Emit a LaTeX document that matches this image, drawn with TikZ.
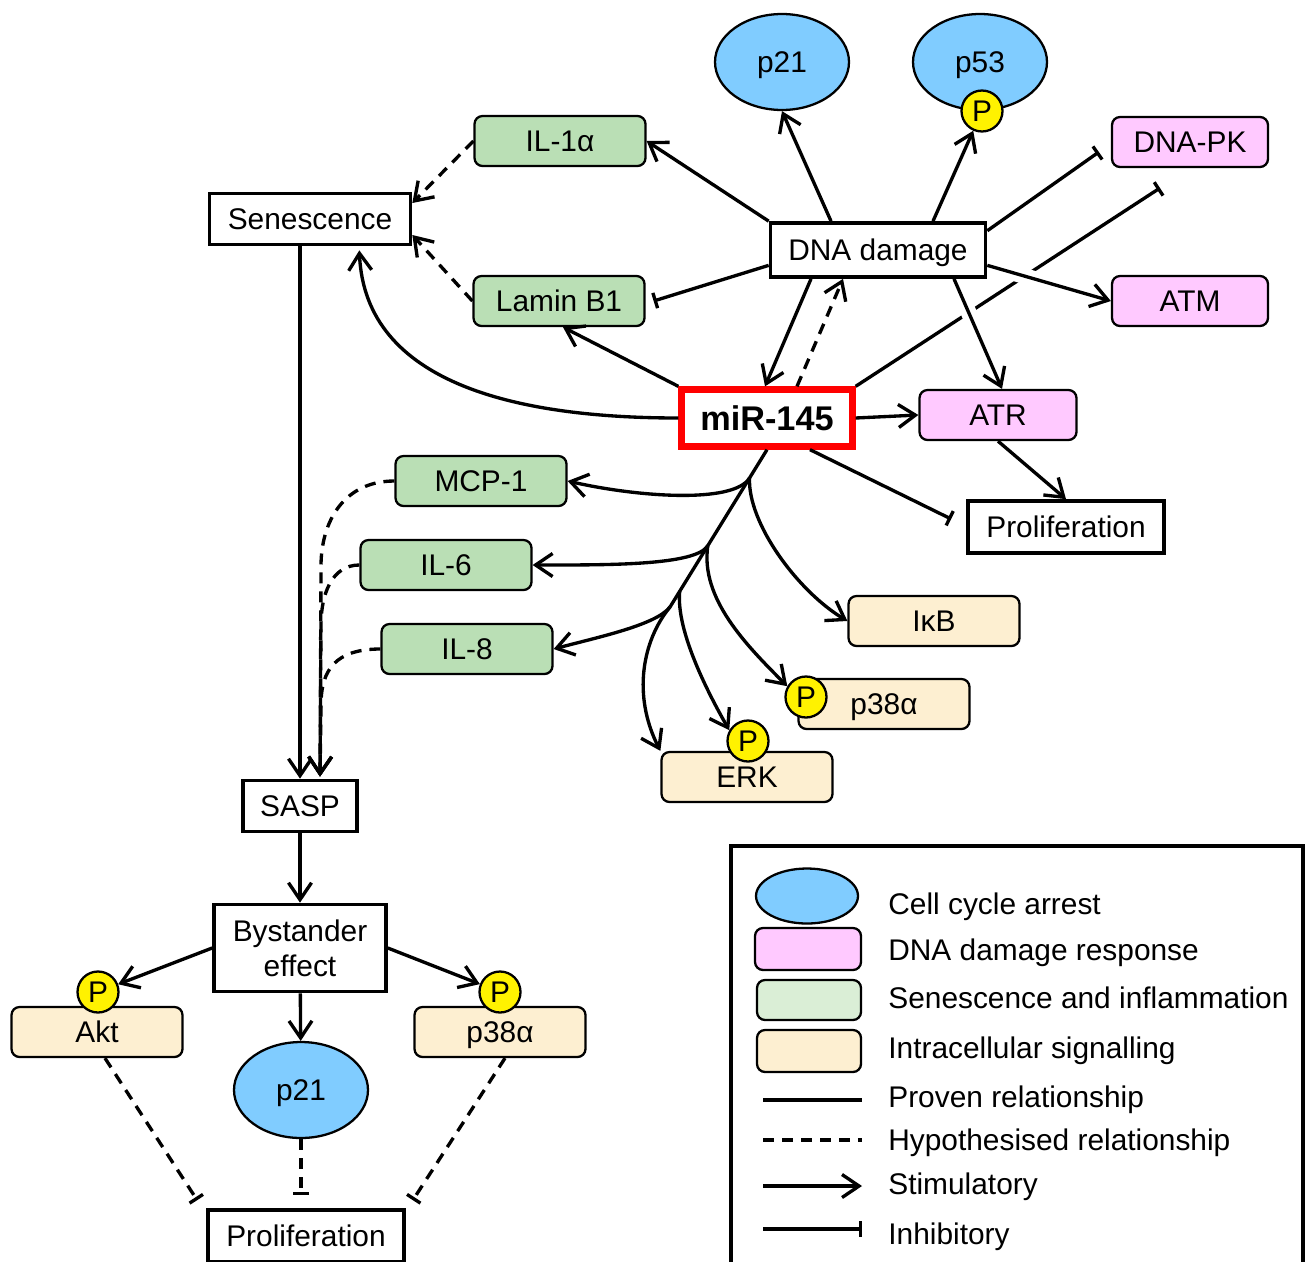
\documentclass[tikz,border=0pt]{standalone}
\usepackage{fontspec}
\setmainfont{Liberation Sans}
\usepackage{tikz}
\usetikzlibrary{arrows.meta,shapes,calc}

\definecolor{cycblue}{RGB}{128,204,255}
\definecolor{ddrpink}{RGB}{255,201,255}
\definecolor{infgreen}{RGB}{186,223,181}
\definecolor{inflight}{RGB}{218,238,214}
\definecolor{sigtan}{RGB}{253,239,209}

\begin{document}
\begin{tikzpicture}[x=0.02cm,y=-0.02cm,
    fnt/.style={font=\fontsize{17}{20}\selectfont, inner sep=0pt},
    lbl/.style={fnt, text height=12.2pt, text depth=0pt},
    wbox/.style={lbl, draw, line width=2.1pt, fill=white},
    rbox/.style={lbl, draw, line width=1.3pt, rounded corners=0.16cm, minimum width=3.42cm, minimum height=1cm},
    inflam/.style={rbox, fill=infgreen},
    ddr/.style={rbox, fill=ddrpink},
    sig/.style={rbox, fill=sigtan},
    cyc/.style={lbl, draw, line width=1.3pt, ellipse, fill=cycblue, minimum width=2.68cm, minimum height=1.92cm},
    phos/.style={lbl, draw, line width=1.3pt, circle, fill=yellow, minimum size=0.82cm},
    prov/.style={line width=1.9pt},
    stim/.style={prov, -{Straight Barb[length=0.34cm,width=0.46cm]}},
    inh/.style={prov, -{Bar[width=0.32cm]}},
    hyp/.style={prov, dash pattern=on 0.22cm off 0.16cm},
    gap/.style={draw=white, line width=9pt, shorten <=0.4cm, shorten >=0.4cm},
]
\useasboundingbox (0,0) rectangle (1307,1261);

% upper network
\node[cyc] (p21a) at (782,62) {p21};
\node[cyc] (p53) at (980,62) {p53};
\node[phos] (p53p) at (982,111) {P};
\node[ddr,minimum width=3.12cm] (dnapk) at (1190,142) {DNA-PK};
\node[ddr,minimum width=3.12cm] (atm) at (1190,301) {ATM};
\node[ddr,minimum width=3.14cm] (atr) at (998,415) {ATR};
\node[wbox,minimum width=4.3cm,minimum height=1.08cm] (dna) at (878,250) {DNA damage};
\node[inflam] (il1) at (560,141) {IL-1α};
\node[inflam] (lamin) at (559,301) {Lamin B1};
\node[wbox,minimum width=4.02cm,minimum height=1.02cm] (sen) at (310,219) {Senescence};
\node[wbox,draw=red,line width=3.6pt,minimum width=3.42cm,minimum height=1.14cm,
      font=\fontsize{19.5}{22}\selectfont\bfseries,text height=14pt] (mir) at (767,418) {miR-145};
\node[wbox,minimum width=3.92cm,minimum height=1.04cm] (prol) at (1066,527) {Proliferation};
\node[inflam] (mcp) at (481,481) {MCP-1};
\node[inflam] (il6) at (446,565) {IL-6};
\node[inflam] (il8) at (467,649) {IL-8};
\node[sig] (ikb) at (934,621) {IκB};
\node[sig] (p38a) at (884,704) {p38α};
\node[sig] (erk) at (747,777) {ERK};
\node[phos] (p38ap) at (806,697) {P};
\node[phos] (erkp) at (748,741) {P};

\draw[stim] (dna.north west) -- (il1.east);
\draw[stim] ([xshift=-0.94cm]dna.north) -- (p21a.south);
\draw[stim] ([xshift=1.1cm]dna.north) -- (p53p);
\draw[inh] (dna.10) -- ([xshift=-0.24cm,yshift=-0.2cm]dnapk.west);
\draw[inh] (dna.188) -- ([xshift=0.16cm]lamin.east);
\draw[stim] ([xshift=-1.34cm]dna.south) -- ([xshift=-0.04cm]mir.north);
\draw[stim,hyp] ([xshift=0.6cm]mir.north) -- ([xshift=-0.7cm]dna.south);
\draw[stim] (mir.north west) -- ([xshift=0.08cm]lamin.south);
\draw[stim] (mir.east) -- (atr.west);
\draw[inh] ([xshift=0.86cm]mir.south) -- ([xshift=-0.3cm,yshift=0.16cm]prol.west);
\draw[stim] (atr.south) -- (prol.north);
\coordinate (pkbar) at (1160,188);
\draw[inh] (mir.north east) -- (pkbar);
% breaks where the long line is crossed
\draw[gap] (dna.-8) -- (atm.west);
\draw[gap] ([xshift=1.52cm]dna.south) -- ([xshift=0.08cm]atr.north);
\draw[stim] (dna.-8) -- (atm.west);
\draw[stim] ([xshift=1.52cm]dna.south) -- ([xshift=0.08cm]atr.north);
\draw[stim,hyp] (il1.west) -- ([yshift=0.32cm]sen.east);
\draw[stim,hyp] (lamin.west) -- ([yshift=-0.32cm]sen.east);
\draw[stim] (mir.west) .. controls (520,418) and (365,385) .. ($(sen.south east)+(-53,4)$);

% fan below miR-145
\coordinate (fork) at (670,607);
\draw[prov] (mir.south) -- (fork);
\path (mir.south) -- (fork) coordinate[pos=0.18] (f1) coordinate[pos=0.61] (f2) coordinate[pos=0.9] (f3);
\draw[stim] (f1) .. controls +(-16,26) and +(70,16) .. (mcp.east);
\draw[stim] (f1) .. controls +(-2,45) and +(-50,-30) .. (ikb.west);
\draw[stim] (f2) .. controls +(-12,20) and +(75,0) .. (il6.east);
\draw[stim] (f2) .. controls +(-8,53) and +(-40,-40) .. (p38ap.150);
\draw[stim] (f3) .. controls +(-4,40) and +(-20,-35) .. (erkp.150);
\draw[stim] (fork) .. controls +(-14,18) and +(45,-12) .. (il8.east);
\draw[stim] (fork) .. controls +(-28,34) and +(-28,-55) .. (erk.north west);

% lower network
\node[wbox,minimum width=2.28cm,minimum height=1.02cm] (sasp) at (300,806) {SASP};
\node[fnt,draw,line width=2.1pt,fill=white,align=center,minimum width=3.44cm,minimum height=1.74cm] (byst) at (300,948) {Bystander\\effect};
\node[sig] (akt) at (97,1032) {Akt};
\node[sig] (p38b) at (500,1032) {p38α};
\node[phos] (aktp) at (98,992) {P};
\node[phos] (p38bp) at (500,992) {P};
\node[cyc] (p21b) at (301,1090) {p21};
\node[wbox,minimum width=3.92cm,minimum height=1.04cm] (prolb) at (306,1236) {Proliferation};

\coordinate (saspin) at ($(sasp.north)+(20,-2)$);
\draw[stim] (sen.south -| sasp.north) -- (sasp.north);
\draw[stim,hyp] (mcp.west) .. controls +(-50,0) and +(0,-45) .. (321,566) -- (saspin);
\draw[stim,hyp] (il6.west) .. controls +(-28,0) and +(0,-30) .. (321,625) -- (saspin);
\draw[stim,hyp] (il8.west) .. controls +(-45,0) and +(0,-35) .. (321,705) -- (saspin);
\draw[stim] (sasp) -- (byst);
\draw[stim] (byst.west) -- (aktp);
\draw[stim] (byst.east) -- (p38bp);
\draw[stim] (byst) -- (p21b);
\draw[inh,hyp] ([xshift=0.16cm]akt.south) -- ([xshift=-0.18cm,yshift=0.16cm]prolb.north west);
\draw[inh,hyp] (p21b) -- ($(prolb.north -| p21b)+(0,-13)$);
\draw[inh,hyp] ([xshift=0.1cm]p38b.south) -- ([xshift=0.14cm,yshift=0.16cm]prolb.north east);

% legend
\draw[line width=2.1pt] (731,846) rectangle (1303,1300);
\node[cyc,minimum width=2.04cm,minimum height=1.1cm] (lcyc) at (807,896) {};
\node[ddr,minimum width=2.12cm,minimum height=0.84cm] (lddr) at (808,949) {};
\node[inflam,fill=inflight,minimum width=2.08cm,minimum height=0.8cm] (linf) at (809,1000) {};
\node[sig,minimum width=2.08cm,minimum height=0.84cm] (lsig) at (809,1051) {};
\foreach \yy/\st [count=\i] in {1100/prov, 1140/hyp, 1186/stim, 1229/inh}
  \draw[\st] (763,\yy) coordinate (la\i) -- (862,\yy) coordinate (lb\i);
\foreach \yy/\txt [count=\i] in {904/Cell cycle arrest, 950/DNA damage response,
    998/Senescence and inflammation, 1048/Intracellular signalling, 1097/Proven relationship,
    1140/Hypothesised relationship, 1184/Stimulatory, 1234/Inhibitory}
  \node[lbl,anchor=west] (lt\i) at (888,\yy) {\txt};
\end{tikzpicture}
\end{document}
